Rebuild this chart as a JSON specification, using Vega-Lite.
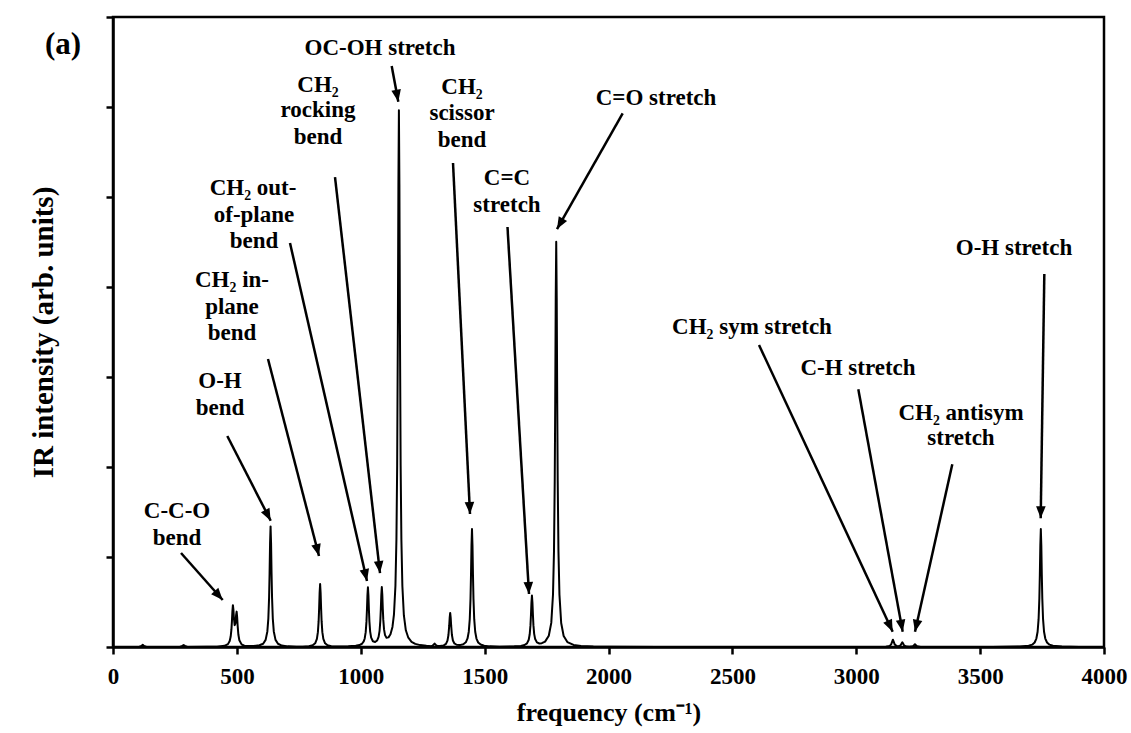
{
  "$schema": "https://vega.github.io/schema/vega-lite/v6.json",
  "width": 991,
  "height": 630,
  "autosize": {"type": "none"},
  "padding": {"left": 113, "top": 17, "right": 27, "bottom": 86},
  "background": "white",
  "config": {
    "font": "Liberation Serif",
    "view": {"stroke": "black", "strokeWidth": 2.5},
    "axis": {
      "grid": false,
      "domainColor": "black",
      "domainWidth": 2.5,
      "tickColor": "black",
      "tickWidth": 2.5,
      "tickSize": 7,
      "labelFont": "Liberation Serif",
      "labelFontWeight": "bold",
      "labelFontSize": 23,
      "labelColor": "black",
      "labelFlush": false,
      "labelOverlap": false,
      "titleFont": "Liberation Serif",
      "titleFontWeight": "bold",
      "titleFontSize": 26,
      "titleColor": "black"
    }
  },
  "layer": [
    {
      "data": {"values": [
        {"f":0,"i":0},{"f":105,"i":0},{"f":115,"i":0.012},{"f":120,"i":0.025},{"f":125,"i":0.012},{"f":135,"i":0},
        {"f":270,"i":0},{"f":280,"i":0.012},{"f":285,"i":0.022},{"f":290,"i":0.012},{"f":300,"i":0},
        {"f":380,"i":0.002},{"f":420,"i":0.004},{"f":450,"i":0.013},{"f":464,"i":0.032},{"f":471,"i":0.066},{"f":475,"i":0.116},{"f":478,"i":0.195},{"f":480,"i":0.285},{"f":482,"i":0.399},{"f":484,"i":0.465},{"f":486,"i":0.416},{"f":488,"i":0.322},{"f":491,"i":0.243},{"f":494,"i":0.261},{"f":497,"i":0.357},{"f":499,"i":0.393},{"f":501,"i":0.336},{"f":503,"i":0.241},{"f":506,"i":0.139},{"f":510,"i":0.075},{"f":519,"i":0.029},{"f":530,"i":0.014},{"f":550,"i":0.010},{"f":566,"i":0.010},
        {"f":591,"i":0.019},{"f":606,"i":0.036},{"f":616,"i":0.079},{"f":623,"i":0.173},{"f":627,"i":0.316},{"f":630,"i":0.549},{"f":632,"i":0.817},{"f":634,"i":1.155},{"f":636,"i":1.34},{"f":638,"i":1.155},{"f":640,"i":0.817},{"f":642,"i":0.549},{"f":645,"i":0.316},{"f":649,"i":0.173},{"f":656,"i":0.079},{"f":666,"i":0.036},{"f":681,"i":0.016},{"f":706,"i":0.007},{"f":740,"i":0.003},
        {"f":766,"i":0.004},{"f":791,"i":0.009},{"f":806,"i":0.019},{"f":816,"i":0.041},{"f":823,"i":0.090},{"f":827,"i":0.165},{"f":830,"i":0.287},{"f":832,"i":0.427},{"f":834,"i":0.603},{"f":836,"i":0.70},{"f":838,"i":0.603},{"f":840,"i":0.427},{"f":842,"i":0.287},{"f":845,"i":0.165},{"f":849,"i":0.090},{"f":856,"i":0.041},{"f":866,"i":0.019},{"f":881,"i":0.009},{"f":906,"i":0.005},{"f":930,"i":0.006},
        {"f":950,"i":0.007},{"f":980,"i":0.013},{"f":995,"i":0.022},{"f":1005,"i":0.036},{"f":1012,"i":0.062},{"f":1016,"i":0.095},{"f":1020,"i":0.165},{"f":1023,"i":0.279},{"f":1025,"i":0.410},{"f":1027,"i":0.574},{"f":1029,"i":0.664},{"f":1031,"i":0.574},{"f":1033,"i":0.411},{"f":1035,"i":0.282},{"f":1038,"i":0.171},{"f":1042,"i":0.104},{"f":1049,"i":0.064},{"f":1058,"i":0.056},{"f":1066,"i":0.072},{"f":1072,"i":0.112},{"f":1076,"i":0.180},{"f":1079,"i":0.291},{"f":1081,"i":0.418},{"f":1083,"i":0.578},{"f":1085,"i":0.667},{"f":1087,"i":0.582},{"f":1089,"i":0.424},{"f":1091,"i":0.301},{"f":1094,"i":0.195},{"f":1098,"i":0.132},{"f":1104,"i":0.103},{"f":1112,"i":0.107},{"f":1120,"i":0.141},{"f":1128,"i":0.223},{"f":1134,"i":0.359},{"f":1140,"i":0.681},{"f":1144,"i":1.198},{"f":1147,"i":2.019},{"f":1150,"i":3.638},{"f":1152,"i":5.142},{"f":1154,"i":5.964},{"f":1156,"i":5.141},{"f":1158,"i":3.637},{"f":1161,"i":2.017},{"f":1164,"i":1.195},{"f":1168,"i":0.677},{"f":1174,"i":0.353},{"f":1182,"i":0.186},{"f":1192,"i":0.103},{"f":1205,"i":0.058},{"f":1220,"i":0.035},{"f":1240,"i":0.021},{"f":1265,"i":0.013},{"f":1285,"i":0.009},
        {"f":1290,"i":0.016},{"f":1294,"i":0.026},{"f":1298,"i":0.038},{"f":1302,"i":0.025},{"f":1308,"i":0.013},{"f":1320,"i":0.011},{"f":1335,"i":0.018},{"f":1344,"i":0.034},{"f":1350,"i":0.071},{"f":1354,"i":0.133},{"f":1357,"i":0.234},{"f":1359,"i":0.327},{"f":1361,"i":0.378},{"f":1363,"i":0.327},{"f":1365,"i":0.234},{"f":1368,"i":0.133},{"f":1372,"i":0.072},{"f":1378,"i":0.039},{"f":1387,"i":0.025},{"f":1400,"i":0.021},{"f":1414,"i":0.031},{"f":1424,"i":0.052},{"f":1431,"i":0.095},{"f":1436,"i":0.170},{"f":1440,"i":0.309},{"f":1443,"i":0.535},{"f":1445,"i":0.799},{"f":1447,"i":1.129},{"f":1449,"i":1.31},{"f":1451,"i":1.129},{"f":1453,"i":0.799},{"f":1455,"i":0.537},{"f":1458,"i":0.309},{"f":1462,"i":0.169},{"f":1467,"i":0.094},{"f":1474,"i":0.050},{"f":1484,"i":0.027},{"f":1498,"i":0.014},{"f":1520,"i":0.007},{"f":1560,"i":0.004},
        {"f":1620,"i":0.007},{"f":1646,"i":0.012},{"f":1661,"i":0.022},{"f":1671,"i":0.041},{"f":1678,"i":0.081},{"f":1682,"i":0.142},{"f":1685,"i":0.240},{"f":1687,"i":0.353},{"f":1689,"i":0.494},{"f":1691,"i":0.571},{"f":1693,"i":0.495},{"f":1695,"i":0.354},{"f":1697,"i":0.243},{"f":1700,"i":0.146},{"f":1704,"i":0.088},{"f":1711,"i":0.051},{"f":1721,"i":0.039},{"f":1731,"i":0.042},{"f":1744,"i":0.060},{"f":1759,"i":0.125},{"f":1769,"i":0.268},{"f":1776,"i":0.583},{"f":1780,"i":1.064},{"f":1783,"i":1.847},{"f":1785,"i":2.747},{"f":1787,"i":3.881},{"f":1789,"i":4.502},{"f":1791,"i":3.881},{"f":1793,"i":2.746},{"f":1795,"i":1.846},{"f":1798,"i":1.063},{"f":1802,"i":0.582},{"f":1809,"i":0.266},{"f":1819,"i":0.122},{"f":1834,"i":0.055},{"f":1859,"i":0.023},{"f":1889,"i":0.011},{"f":1939,"i":0.005},{"f":2000,"i":0.003},{"f":2200,"i":0},
        {"f":3050,"i":0},{"f":3100,"i":0.001},{"f":3120,"i":0.003},{"f":3135,"i":0.012},{"f":3141,"i":0.029},{"f":3145,"i":0.060},{"f":3148,"i":0.081},{"f":3151,"i":0.061},{"f":3155,"i":0.029},{"f":3163,"i":0.011},{"f":3172,"i":0.009},{"f":3179,"i":0.019},{"f":3183,"i":0.038},{"f":3186,"i":0.052},{"f":3189,"i":0.038},{"f":3193,"i":0.018},{"f":3202,"i":0.005},{"f":3215,"i":0.003},{"f":3229,"i":0.009},{"f":3234,"i":0.022},{"f":3237,"i":0.031},{"f":3240,"i":0.022},{"f":3245,"i":0.008},{"f":3260,"i":0.001},{"f":3290,"i":0},
        {"f":3550,"i":0},{"f":3600,"i":0.002},{"f":3660,"i":0.005},{"f":3696,"i":0.014},{"f":3710,"i":0.026},{"f":3720,"i":0.050},{"f":3727,"i":0.094},{"f":3732,"i":0.169},{"f":3736,"i":0.309},{"f":3739,"i":0.537},{"f":3741,"i":0.799},{"f":3743,"i":1.129},{"f":3745,"i":1.31},{"f":3747,"i":1.129},{"f":3749,"i":0.799},{"f":3751,"i":0.537},{"f":3754,"i":0.309},{"f":3758,"i":0.169},{"f":3763,"i":0.094},{"f":3770,"i":0.050},{"f":3780,"i":0.026},{"f":3794,"i":0.014},{"f":3830,"i":0.005},{"f":3900,"i":0.001},{"f":4000,"i":0}
      ]},
      "mark": {"type": "line", "color": "black", "strokeWidth": 2, "strokeJoin": "round"},
      "encoding": {
        "x": {"field": "f", "type": "quantitative", "title": "frequency (cm⁻¹)", "scale": {"domain": [0, 4000], "nice": false, "zero": false},
              "axis": {"values": [0,500,1000,1500,2000,2500,3000,3500,4000], "format": "d", "labelPadding": 11, "titlePadding": 11, "labelFlush": false}},
        "y": {"field": "i", "type": "quantitative", "title": "IR intensity (arb. units)", "scale": {"domain": [0, 7], "nice": false},
              "axis": {"values": [0,1,2,3,4,5,6,7], "labels": false, "titlePadding": 46, "titleFontSize": 29}}
      }
    },
    {
      "data": {"values": [
        {"x": 274.5, "y": 1.044, "x2": 442.8, "y2": 0.522},
        {"x": 461.3, "y": 2.344, "x2": 636.5, "y2": 1.403},
        {"x": 625.6, "y": 3.2, "x2": 831.5, "y2": 1.011},
        {"x": 714.4, "y": 4.489, "x2": 1025.2, "y2": 0.733},
        {"x": 896.1, "y": 5.222, "x2": 1077.7, "y2": 0.822},
        {"x": 1124.9, "y": 6.456, "x2": 1151.6, "y2": 6.059},
        {"x": 1372.4, "y": 5.378, "x2": 1441.0, "y2": 1.478},
        {"x": 1592.3, "y": 4.667, "x2": 1679.1, "y2": 0.589},
        {"x": 2057.3, "y": 5.93, "x2": 1792.1, "y2": 4.644},
        {"x": 2607.5, "y": 3.356, "x2": 3147.1, "y2": 0.17},
        {"x": 3008.3, "y": 2.863, "x2": 3187.5, "y2": 0.17},
        {"x": 3387.7, "y": 2.03, "x2": 3237.1, "y2": 0.17},
        {"x": 3759.1, "y": 4.144, "x2": 3744.5, "y2": 1.43}
      ]},
      "layer": [
        {
          "mark": {"type": "rule", "color": "black", "strokeWidth": 2.5},
          "encoding": {
            "x": {"field": "x", "type": "quantitative", "title": "frequency (cm⁻¹)", "scale": {"domain": [0, 4000], "nice": false, "zero": false}},
            "y": {"field": "y", "type": "quantitative", "title": "IR intensity (arb. units)", "scale": {"domain": [0, 7], "nice": false}},
            "x2": {"field": "x2"},
            "y2": {"field": "y2"}
          }
        },
        {
          "transform": [{"calculate": "atan2((datum.x2 - datum.x) * 0.24775, (datum.y2 - datum.y) * 90) * 180 / PI", "as": "ang"}],
          "mark": {"type": "point", "shape": "M0,0L0.8,2L-0.8,2Z", "filled": true, "color": "black", "opacity": 1, "size": 144, "strokeWidth": 0},
          "encoding": {
            "x": {"field": "x2", "type": "quantitative", "title": "frequency (cm⁻¹)", "scale": {"domain": [0, 4000], "nice": false, "zero": false}},
            "y": {"field": "y2", "type": "quantitative", "title": "IR intensity (arb. units)", "scale": {"domain": [0, 7], "nice": false}},
            "angle": {"field": "ang", "type": "quantitative", "scale": null}
          }
        }
      ]
    },
    {
      "data": {"values": [
        {"x": 258.3, "y": 1.511, "text": "C-C-O"},
        {"x": 258.3, "y": 1.211, "text": "bend"},
        {"x": 431.9, "y": 2.956, "text": "O-H"},
        {"x": 431.9, "y": 2.656, "text": "bend"},
        {"x": 480.3, "y": 4.078, "text": "CH₂ in-"},
        {"x": 480.3, "y": 3.778, "text": "plane"},
        {"x": 480.3, "y": 3.489, "text": "bend"},
        {"x": 565.1, "y": 5.1, "text": "CH₂ out-"},
        {"x": 569.1, "y": 4.8, "text": "of-plane"},
        {"x": 569.1, "y": 4.511, "text": "bend"},
        {"x": 827.4, "y": 6.244, "text": "CH₂"},
        {"x": 827.4, "y": 5.967, "text": "rocking"},
        {"x": 827.4, "y": 5.667, "text": "bend"},
        {"x": 1077.7, "y": 6.656, "text": "OC-OH stretch"},
        {"x": 1408.7, "y": 6.222, "text": "CH₂"},
        {"x": 1408.7, "y": 5.933, "text": "scissor"},
        {"x": 1408.7, "y": 5.633, "text": "bend"},
        {"x": 1590.3, "y": 5.211, "text": "C=C"},
        {"x": 1590.3, "y": 4.911, "text": "stretch"},
        {"x": 2191.7, "y": 6.1, "text": "C=O stretch"},
        {"x": 2579.2, "y": 3.556, "text": "CH₂ sym stretch"},
        {"x": 3007.1, "y": 3.1, "text": "C-H stretch"},
        {"x": 3422.8, "y": 2.6, "text": "CH₂ antisym"},
        {"x": 3422.8, "y": 2.322, "text": "stretch"},
        {"x": 3636.7, "y": 4.433, "text": "O-H stretch"}
      ]},
      "mark": {"type": "text", "font": "Liberation Serif", "fontWeight": "bold", "fontSize": 23, "color": "black", "align": "center", "baseline": "middle"},
      "encoding": {
        "x": {"field": "x", "type": "quantitative", "title": "frequency (cm⁻¹)", "scale": {"domain": [0, 4000], "nice": false, "zero": false}},
        "y": {"field": "y", "type": "quantitative", "title": "IR intensity (arb. units)", "scale": {"domain": [0, 7], "nice": false}},
        "text": {"field": "text"}
      }
    },
    {
      "data": {"values": [{"x": -202, "y": 6.69, "text": "(a)"}]},
      "mark": {"type": "text", "font": "Liberation Serif", "fontWeight": "bold", "fontSize": 31, "color": "black", "align": "center", "baseline": "middle", "clip": false},
      "encoding": {
        "x": {"field": "x", "type": "quantitative", "title": "frequency (cm⁻¹)", "scale": {"domain": [0, 4000], "nice": false, "zero": false}},
        "y": {"field": "y", "type": "quantitative", "title": "IR intensity (arb. units)", "scale": {"domain": [0, 7], "nice": false}},
        "text": {"field": "text"}
      }
    }
  ]
}
